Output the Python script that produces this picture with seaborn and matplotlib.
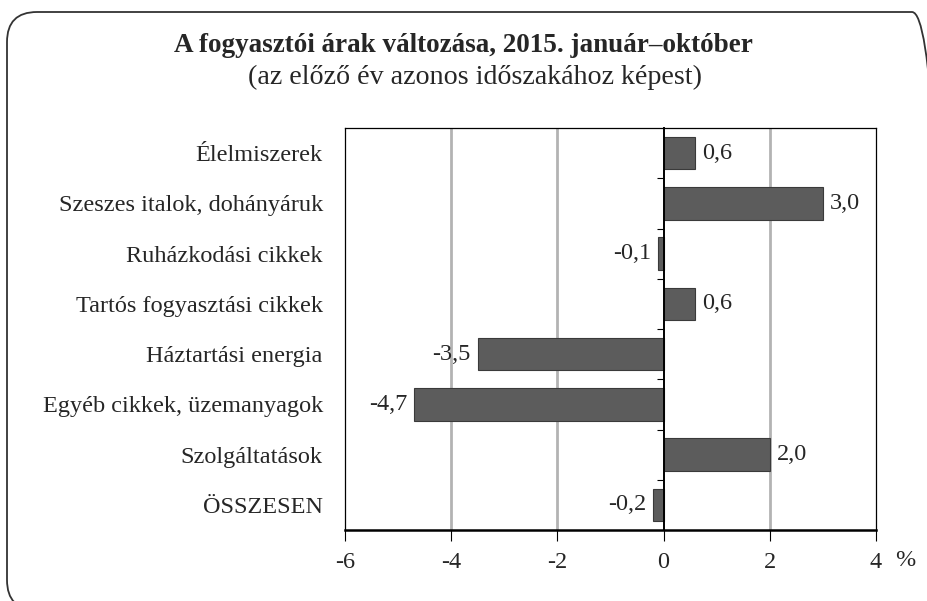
import matplotlib
matplotlib.use("Agg")
import matplotlib.pyplot as plt
from matplotlib.patches import FancyBboxPatch
import numpy as np
import pandas as pd
import seaborn as sns

categories = [
    "Élelmiszerek",
    "Szeszes italok, dohányáruk",
    "Ruházkodási cikkek",
    "Tartós fogyasztási cikkek",
    "Háztartási energia",
    "Egyéb cikkek, üzemanyagok",
    "Szolgáltatások",
    "ÖSSZESEN",
]
values = [0.6, 3.0, -0.1, 0.6, -3.5, -4.7, 2.0, -0.2]
x_ticks = [-6, -4, -2, 0, 2, 4]

title = "A fogyasztói árak változása, 2015. január–október"
subtitle = "(az előző év azonos időszakához képest)"

sns.set_style("white")
plt.rcParams["font.family"] = ["Liberation Serif", "DejaVu Serif"]

df = pd.DataFrame({"cat": categories, "val": values})

fig = plt.figure(figsize=(9.27, 6.01), dpi=100)
ax = fig.add_axes([345 / 927, 71 / 601, 531 / 927, 402 / 601])

# rounded frame around the whole chart (partly cut off at right/bottom)
frame = FancyBboxPatch((0.07, -0.09), 9.35, 5.98,
                       boxstyle="round,pad=0,rounding_size=0.3",
                       transform=fig.dpi_scale_trans, facecolor="none",
                       edgecolor="#333333", linewidth=1.3, clip_on=False)
fig.patches.append(frame)

for g in [-4, -2, 2]:
    ax.axvline(g, color="#b3b3b3", linewidth=2, zorder=0)

sns.barplot(data=df, y="cat", x="val", orient="h", color="#5c5c5c",
            edgecolor="#3a3a3a", linewidth=0.8, width=0.65,
            saturation=1, ax=ax, zorder=2)

labels = [f"{v:.1f}".replace(".", ",") for v in values]
ax.bar_label(ax.containers[0], labels=labels, padding=5, fontsize=17.5)

ax.set_xlim(x_ticks[0], x_ticks[-1])
ax.set_ylim(len(categories) - 0.5, -0.5)
ax.set_xticks(x_ticks)
ax.set_xticklabels([str(t) for t in x_ticks], fontsize=17.5)
ax.tick_params(axis="x", direction="out", length=8, width=0.8, pad=8,
               bottom=True, color="black")
ax.tick_params(axis="y", length=0, pad=16, labelsize=17.5)
ax.set_xlabel("")
ax.set_ylabel("")
for side in ["top", "left", "right"]:
    ax.spines[side].set_color("black")
    ax.spines[side].set_linewidth(0.9)
ax.spines["bottom"].set_color("black")
ax.spines["bottom"].set_linewidth(1.8)

# vertical zero axis with ticks between categories
ax2 = ax.twinx()
ax2.set_ylim(ax.get_ylim())
for side in ["top", "bottom", "right"]:
    ax2.spines[side].set_visible(False)
ax2.spines["left"].set_position(("data", 0))
ax2.spines["left"].set_color("black")
ax2.spines["left"].set_linewidth(1.4)
ax2.yaxis.set_ticks_position("left")
ax2.set_yticks(np.arange(0.5, len(categories) - 0.5, 1))
ax2.set_yticklabels([])
ax2.tick_params(axis="y", direction="out", length=5, width=0.8, color="black")

ax.text(1.055, -0.075, "%", transform=ax.transAxes, ha="center", va="center",
        fontsize=17.5)

fig.text(0.5, 0.925, title, ha="center", va="center", fontsize=19.5,
         fontweight="bold")
fig.text(0.512, 0.871, subtitle, ha="center", va="center", fontsize=20.2)

fig.savefig("out.png", dpi=100)
